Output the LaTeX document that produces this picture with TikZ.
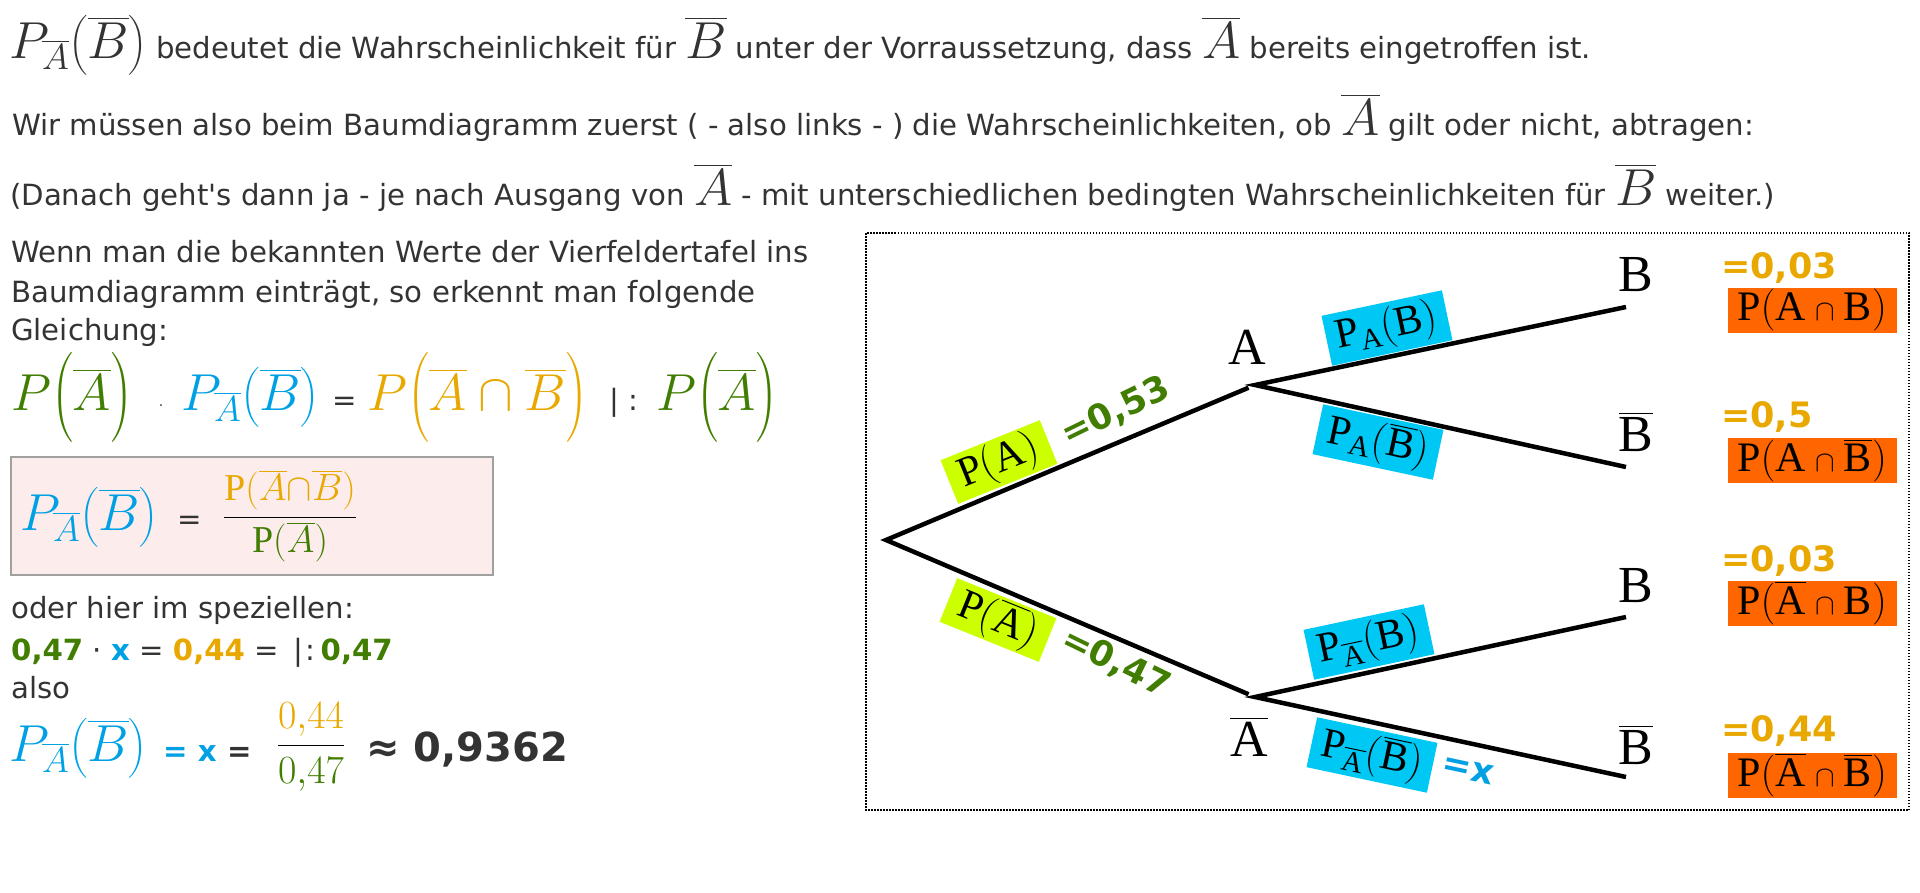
\RequirePackage{fix-cm}
\documentclass[tikz,border=0pt]{standalone}
\usepackage{amsmath}
\usepackage{fontspec}
\setmainfont{Liberation Serif}
\newfontfamily\vsans{DejaVu Sans}
\usepackage{xcolor}
\usepackage{tikz}
\definecolor{textgray}{RGB}{51,51,51}
\definecolor{eqgreen}{RGB}{64,125,0}
\definecolor{eqblue}{RGB}{0,160,228}
\definecolor{eqgold}{RGB}{232,168,0}
\definecolor{boxlime}{RGB}{204,255,0}
\definecolor{boxcyan}{RGB}{0,200,245}
\definecolor{boxorange}{RGB}{255,102,0}
\definecolor{pinkfill}{RGB}{253,236,236}
\definecolor{pinkline}{RGB}{160,160,160}
\newcommand{\bigmath}[1]{{\fontsize{52}{52}\selectfont$#1$}}
\newcommand{\PAbB}{P_{\overline{A}}\big(\overline{B}\big)}
\newcommand{\smallcap}{\mathbin{\scriptstyle\cap}}

\begin{document}
\begin{tikzpicture}[x=1pt, y=-1pt,
  txt/.style={anchor=base west, inner sep=0pt, text=textgray, font=\fontsize{29.2}{34}\selectfont\vsans},
  branch/.style={line width=4.5pt},
  probbox/.style={inner sep=0pt, font=\fontsize{42}{42}\selectfont},
  pgreen/.style={probbox, fill=boxlime, minimum width=107pt, minimum height=47pt},
  pblue/.style={probbox, fill=boxcyan, minimum width=123pt, minimum height=51pt},
  porange/.style={probbox, fill=boxorange, minimum width=169pt, minimum height=45pt},
  ev/.style={inner sep=0pt, font=\fontsize{52}{52}\selectfont},
  val/.style={inner sep=0pt, font=\fontsize{35}{35}\selectfont\vsans\bfseries}]
  \useasboundingbox (0,0) rectangle (1920,892);

  \node[txt] (intro) at (9,58) {\bigmath{\PAbB} bedeutet die Wahrscheinlichkeit für \bigmath{\overline{B}} unter der Vorraussetzung, dass \bigmath{\overline{A}} bereits eingetroffen ist.};
  \node[txt] (order) at (12,135) {Wir müssen also beim Baumdiagramm zuerst ( - also links - ) die Wahrscheinlichkeiten, ob \bigmath{\overline{A}} gilt oder nicht, abtragen:};
  \node[txt] (later) at (10,205) {(Danach geht's dann ja - je nach Ausgang von \bigmath{\overline{A}} - mit unterschiedlichen bedingten Wahrscheinlichkeiten für \bigmath{\overline{B}} weiter.)};

  \node[txt] (wenn) at (11,262) {Wenn man die bekannten Werte der Vierfeldertafel ins};
  \node[txt] (baum) at (11,302) {Baumdiagramm einträgt, so erkennt man folgende};
  \node[txt] (gleich) at (11,340) {Gleichung:};

  \node[txt] (eqA) at (11,410) {\bigmath{\color{eqgreen}P\Big(\overline{A}\Big)}};
  \node[txt, anchor=base] (eqDot) at (161,410) {{\fontsize{14}{14}\selectfont·}};
  \node[txt] (eqPB) at (181,410) {\bigmath{\color{eqblue}\PAbB}};
  \node[txt] (eqIs) at (332,410) {=};
  \node[txt] (eqAB) at (367,410) {\bigmath{\color{eqgold}P\Big(\overline{A}\cap\overline{B}\Big)}};
  \node[txt] (eqDiv) at (609,410) {| :};
  \node[txt] (eqA2) at (656,410) {\bigmath{\color{eqgreen}P\Big(\overline{A}\Big)}};

  \draw[draw=pinkline, fill=pinkfill, line width=1.5pt] (11,457) rectangle (493,575);
  \node[txt] (pinkP) at (20,530) {\bigmath{\color{eqblue}\PAbB}};
  \node[txt] (pinkEq) at (177,529) {=};
  \node[inner sep=0pt, font=\fontsize{38}{38}\selectfont] (pinkFrac) at (290,516) {$\dfrac{\color{eqgold}\mathrm{P}(\overline{A}{\cap}\overline{B})}{\color{eqgreen}\mathrm{P}(\overline{A})}$};

  \node[txt] (special) at (11,618) {oder hier im speziellen:};
  \node[txt] (calc) at (11,660) {{\bfseries\color{eqgreen}0,47} · {\bfseries\color{eqblue}x} = {\bfseries\color{eqgold}0,44} =\hspace{5pt} |\hspace{3pt}:\hspace{5pt}{\bfseries\color{eqgreen}0,47}};
  \node[txt] (also) at (11,698) {also};
  \node[txt] (resP) at (9,761) {\bigmath{\color{eqblue}\PAbB}};
  \node[txt, text=eqblue, font=\fontsize{29.2}{34}\selectfont\vsans\bfseries] (resX) at (163,761) {= x};
  \node[txt, font=\fontsize{29.2}{34}\selectfont\vsans\bfseries] (resIs) at (227,761) {=};
  \node[inner sep=0pt, font=\fontsize{40}{40}\selectfont] (resFrac) at (311,747) {$\dfrac{\color{eqgold}0{,}44}{\color{eqgreen}0{,}47}$};
  \node[txt, font=\fontsize{40}{40}\selectfont\vsans\bfseries] (resVal) at (366,761) {≈ 0,9362};

  % Baumdiagramm
  \draw[line width=1.5pt, dash pattern=on 1.5pt off 1.5pt] (866,233) rectangle (1909,810);

  \coordinate (root) at (886,540);
  \coordinate (nA) at (1255,385);
  \coordinate (nAb) at (1255,697);
  \coordinate (eB1) at (1626,307);
  \coordinate (eB2) at (1626,467);
  \coordinate (eB3) at (1626,617);
  \coordinate (eB4) at (1626,777);

  \node[pgreen, rotate=22] (lA) at (999,462) {$\mathrm{P}(\mathrm{A})$};
  \node[pgreen, rotate=-22] (lAb) at (998,620) {$\mathrm{P}(\overline{\mathrm{A}})$};
  \node[pblue, rotate=12] (lAB) at (1387,328) {$\mathrm{P}_{\mathrm{A}}(\mathrm{B})$};
  \node[pblue, rotate=-12] (lABb) at (1378,442) {$\mathrm{P}_{\mathrm{A}}(\overline{\mathrm{B}})$};
  \node[pblue, rotate=12] (lAbB) at (1369,642) {$\mathrm{P}_{\overline{\mathrm{A}}}(\mathrm{B})$};
  \node[pblue, rotate=-12] (lAbBb) at (1372,755) {$\mathrm{P}_{\overline{\mathrm{A}}}(\overline{\mathrm{B}})$};

  \draw[branch, shorten <=7pt, shorten >=7pt] (nA) -- (root) -- (nAb);
  \draw[branch] (eB1) -- (nA) -- (eB2);
  \draw[branch] (eB3) -- (nAb) -- (eB4);

  \node[val, text=eqgreen, rotate=26] (vA) at (1116,412) {=0,53};
  \node[val, text=eqgreen, rotate=-26] (vAb) at (1116,663) {=0,47};
  \node[val, text=eqblue, rotate=-12] (vx) at (1468,770) {=x};

  \node[ev] (A) at (1247,347) {A};
  \node[ev] (Ab) at (1249,737) {$\overline{\mathrm{A}}$};
  \node[ev] (B1) at (1636,275) {B};
  \node[ev] (B2) at (1636,432) {$\overline{\mathrm{B}}$};
  \node[ev] (B3) at (1636,586) {B};
  \node[ev] (B4) at (1636,745) {$\overline{\mathrm{B}}$};

  \node[porange] (pAB) at (1812,310) {$\mathrm{P}(\mathrm{A}\smallcap\mathrm{B})$};
  \node[porange] (pABb) at (1812,460) {$\mathrm{P}(\mathrm{A}\smallcap\overline{\mathrm{B}})$};
  \node[porange] (pAbB) at (1812,603) {$\mathrm{P}(\overline{\mathrm{A}}\smallcap\mathrm{B})$};
  \node[porange] (pAbBb) at (1812,775) {$\mathrm{P}(\overline{\mathrm{A}}\smallcap\overline{\mathrm{B}})$};
  \node[val, text=eqgold, anchor=west] (vAB) at (1721,268) {=0,03};
  \node[val, text=eqgold, anchor=west] (vABb) at (1721,417) {=0,5};
  \node[val, text=eqgold, anchor=west] (vAbB) at (1721,561) {=0,03};
  \node[val, text=eqgold, anchor=west] (vAbBb) at (1721,731) {=0,44};
\end{tikzpicture}
\end{document}
